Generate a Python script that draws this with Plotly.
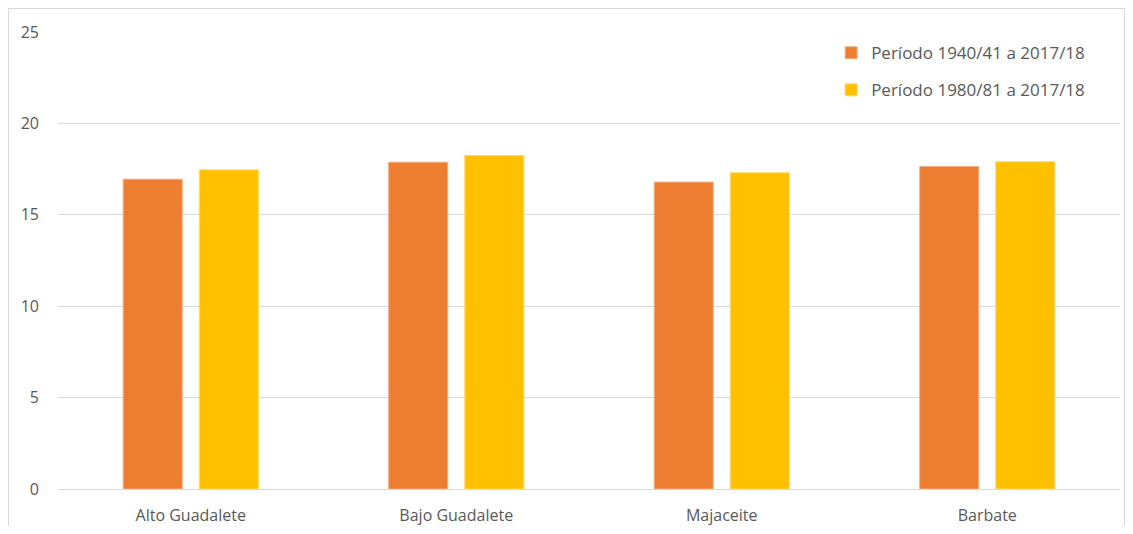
import plotly.graph_objects as go

categories = ["Alto Guadalete", "Bajo Guadalete", "Majaceite", "Barbate"]
series1_name = "Período 1940/41 a 2017/18"
series1_values = [16.95, 17.88, 16.79, 17.64]
series2_name = "Período 1980/81 a 2017/18"
series2_values = [17.46, 18.24, 17.30, 17.90]
y_ticks = [0, 5, 10, 15, 20, 25]

# page has an 8px body margin; figure sized to fit inside the window
W, H = 1117, 518
ml, mr, mt, mb = 50, 5, 24, 37
pw, ph = W - ml - mr, H - mt - mb

fig = go.Figure()
fig.add_trace(go.Bar(x=categories, y=series1_values, name=series1_name,
                     marker=dict(color="#ED7D31", line=dict(color="#F4B183", width=1)),
                     legendgroup="a"))
fig.add_trace(go.Bar(x=categories, y=series2_values, name=series2_name,
                     marker=dict(color="#FFC000", line=dict(color="#FFD966", width=1)),
                     legendgroup="b"))

fig.update_layout(
    width=W, height=H,
    margin=dict(l=ml, r=mr, t=mt, b=mb),
    paper_bgcolor="white", plot_bgcolor="white",
    barmode="group", bargap=0.427, bargroupgap=0.224,
    font=dict(family="Open Sans", size=16, color="#595959"),
    legend=dict(x=0.728, y=0.993, xanchor="left", yanchor="top",
                bgcolor="rgba(0,0,0,0)", tracegroupgap=12,
                traceorder="grouped", font=dict(size=17, color="#595959")),
    xaxis=dict(showgrid=False, showline=True, linecolor="#D9D9D9", linewidth=1,
               automargin=False,
               ticks="", ticklabelstandoff=12, tickfont=dict(size=16, color="#595959")),
    yaxis=dict(range=[0, 25], tickvals=y_ticks, showgrid=True, gridcolor="#D9D9D9",
               gridwidth=1, zeroline=False, showline=False, ticks="", automargin=False,
               ticklabelstandoff=18, tickfont=dict(size=16, color="#595959")),
    shapes=[dict(type="rect", xref="paper", yref="paper",
                 x0=(0.5 - ml) / pw, x1=(W - 0.5 - ml) / pw,
                 y0=-(mb + 30) / ph, y1=(H - mb - 0.5) / ph,
                 line=dict(color="#D9D9D9", width=1), layer="below")],
)

fig.write_html("out.html")
